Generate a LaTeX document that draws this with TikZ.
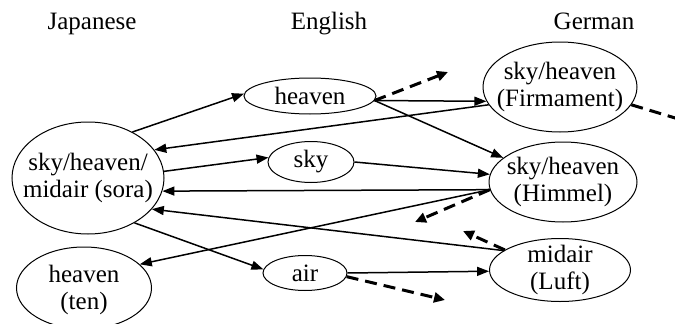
\documentclass[tikz,border=0pt]{standalone}
\usepackage{fontspec}
\setmainfont{Liberation Serif}
\usetikzlibrary{shapes.geometric,arrows.meta}
\begin{document}
\begin{tikzpicture}[x=1pt,y=-1pt,
  word/.style={ellipse,draw,line width=1pt,inner sep=0pt},
  txt/.style={align=center,font=\fontsize{25}{26.5}\selectfont,inner sep=0pt},
  head/.style={font=\fontsize{25}{27}\selectfont,inner sep=0pt},
  link/.style={line width=1.5pt,-{Triangle[length=12pt,width=9pt]}},
  stub/.style={line width=3pt,dash pattern=on 12pt off 7pt,-{Triangle[length=11pt,width=10pt]}}]
\useasboundingbox (0,0) rectangle (675,324);
\clip (0,0) rectangle (675,324);
\fill[white] (0,0) rectangle (675,324);

% column headings
\node[head,anchor=base] (hJ) at (92,29) {Japanese};
\node[head,anchor=base] (hE) at (329,29) {English};
\node[head,anchor=base] (hG) at (594,29) {German};

% word ellipses
\node[word,minimum width=152pt,minimum height=112pt] (sora) at (88,178) {};
\node[word,minimum width=135pt,minimum height=82pt] (ten) at (84,288) {};
\node[word,minimum width=132pt,minimum height=36pt] (heavenE) at (310,96) {};
\node[word,minimum width=86pt,minimum height=41pt] (sky) at (311,162) {};
\node[word,minimum width=84pt,minimum height=35pt] (air) at (305,273) {};
\node[word,minimum width=154pt,minimum height=90pt] (firm) at (560,87) {};
\node[word,minimum width=148pt,minimum height=80pt] (himmel) at (563,182) {};
\node[word,minimum width=141pt,minimum height=63pt] (luft) at (560,270) {};

% labels inside the ellipses
\node[txt] (tsora) at (sora) {sky/heaven/\\midair (sora)};
\node[txt] (tten) at ([yshift=-2pt]ten.center) {heaven\\(ten)};
\node[txt] (theavenE) at (heavenE) {heaven};
\node[txt] (tsky) at (sky) {sky};
\node[txt] (tair) at (air) {air};
\node[txt] (tfirm) at (firm) {sky/heaven\\(Firmament)};
\node[txt] (thimmel) at (himmel) {sky/heaven\\(Himmel)};
\node[txt] (tluft) at (luft) {midair\\(Luft)};

% translation links
\draw[link] (sora.46) -- (heavenE.178);
\draw[link] (firm.194) -- (sora.23);
\draw[link] (sora.5) -- (sky.174);
\draw[link] (himmel.186) -- (sora.-10);
\draw[link] (luft.161) -- (sora.-26);
\draw[link] (sora.-44) -- (air.175);
\draw[link] (himmel.186) -- (ten.23);
\draw[link] (heavenE.-4) -- (firm.191);
\draw[link] (heavenE.-4) -- (himmel.158);
\draw[link] (sky.0) -- (himmel.174);
\draw[link] (air.0) -- (luft.181);

% outgoing links to further words
\coordinate (s1) at (448,72);
\coordinate (s2) at (715,130);
\coordinate (s3) at (415,222);
\coordinate (s4) at (463,231);
\coordinate (s5) at (445,300);
\draw[stub] (heavenE.-4) -- (s1);
\draw[stub] (firm.-14) -- (s2);
\draw[stub] (himmel.186) -- (s3);
\draw[stub] (luft.160) -- (s4);
\draw[stub] (air.-5) -- (s5);
\end{tikzpicture}
\end{document}
